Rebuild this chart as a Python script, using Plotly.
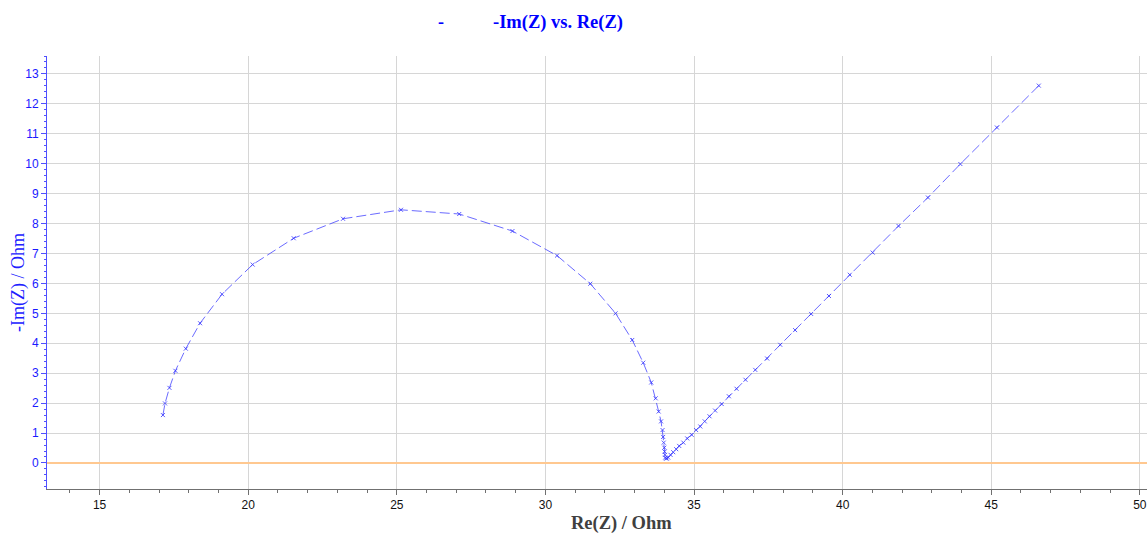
import plotly.graph_objects as go

re_z = [17.13, 17.20, 17.35, 17.55, 17.90, 18.38, 19.12, 20.15, 21.53, 23.19, 25.14,
        27.10, 28.89, 30.39, 31.51, 32.36, 32.92, 33.29, 33.56, 33.71, 33.81, 33.89,
        33.94, 33.96, 33.98, 34.00, 34.01, 34.02, 34.03, 34.06, 34.08,
        34.13, 34.21, 34.30, 34.40, 34.50, 34.64, 34.77, 34.92, 35.07, 35.21, 35.36,
        35.52, 35.71, 35.93, 36.17, 36.43, 36.73, 37.06, 37.46, 37.90, 38.40, 38.94,
        39.54, 40.24, 41.01, 41.88, 42.87, 43.96, 45.19, 46.60]
neg_im_z = [1.60, 1.99, 2.51, 3.08, 3.82, 4.67, 5.64, 6.63, 7.51, 8.16, 8.46,
            8.32, 7.75, 6.93, 5.99, 5.00, 4.11, 3.35, 2.69, 2.16, 1.72, 1.39,
            1.10, 0.87, 0.68, 0.51, 0.38, 0.27, 0.18, 0.15, 0.15,
            0.18, 0.27, 0.36, 0.46, 0.57, 0.68, 0.82, 0.94, 1.10, 1.22, 1.39,
            1.56, 1.75, 1.97, 2.23, 2.48, 2.78, 3.11, 3.49, 3.95, 4.44, 4.98,
            5.58, 6.29, 7.03, 7.92, 8.87, 9.99, 11.21, 12.61]

x_ticks = [15, 20, 25, 30, 35, 40, 45, 50]
y_ticks = list(range(0, 14))

blue = "#1a1aff"

fig = go.Figure()
fig.add_trace(go.Scatter(
    x=re_z, y=neg_im_z, mode="lines+markers",
    line=dict(color="rgba(70,70,255,0.8)", width=1, dash="10px,4px"),
    marker=dict(symbol="x-thin", size=4, color="rgba(50,50,255,0.8)",
                line=dict(width=1, color="rgba(50,50,255,0.8)")),
    showlegend=False,
))

fig.update_layout(
    width=1147, height=533,
    margin=dict(l=47, r=0, t=56, b=44),
    paper_bgcolor="white", plot_bgcolor="white",
    font=dict(family="Liberation Sans, Arial", size=12),
    xaxis=dict(
        range=[13.23, 50.24], tickvals=x_ticks, ticktext=[str(v) for v in x_ticks],
        automargin=False,
        showgrid=True, gridcolor="#d6d6d6", gridwidth=1,
        zeroline=False, showline=True, linecolor="#707070", linewidth=1,
        ticks="outside", ticklen=5, tickcolor="#707070",
        tickfont=dict(color="#111111", size=12),
        minor=dict(dtick=1, ticks="outside", ticklen=3, tickcolor="#707070", showgrid=False),
    ),
    yaxis=dict(
        range=[-0.87, 13.6], tickvals=y_ticks, ticktext=[str(v) for v in y_ticks],
        automargin=False,
        showgrid=True, gridcolor="#d6d6d6", gridwidth=1,
        zeroline=True, zerolinecolor="#ffc890", zerolinewidth=2,
        showline=True, linecolor="#5050ff", linewidth=1,
        ticks="outside", ticklen=5, tickcolor="#5050ff",
        tickfont=dict(color=blue, size=12),
        minor=dict(dtick=0.2, ticks="outside", ticklen=2, tickcolor="#5050ff", showgrid=False),
    ),
    annotations=[
        dict(text="<b>-</b>", xref="paper", yref="paper", x=(441 - 47) / 1100, y=1 + (56 - 22) / 433,
             xanchor="center", yanchor="middle", showarrow=False,
             font=dict(family="Liberation Serif, Times New Roman", size=18, color="#0000ff")),
        dict(text="<b>-Im(Z) vs. Re(Z)</b>", xref="paper", yref="paper", x=(558 - 47) / 1100,
             y=1 + (56 - 22) / 433, xanchor="center", yanchor="middle", showarrow=False,
             font=dict(family="Liberation Serif, Times New Roman", size=18.5, color="#0000ff")),
        dict(text="-Im(Z) / Ohm", xref="paper", yref="paper", x=-(47 - 18) / 1100,
             y=(489 - 283) / 433, xanchor="center", yanchor="middle", textangle=-90,
             showarrow=False,
             font=dict(family="Liberation Serif, Times New Roman", size=18, color="#2020ff")),
        dict(text="<b>Re(Z) / Ohm</b>", xref="paper", yref="paper", x=(621 - 47) / 1100,
             y=-(523 - 489) / 433, xanchor="center", yanchor="middle", showarrow=False,
             font=dict(family="Liberation Serif, Times New Roman", size=18.5, color="#404040")),
    ],
)

fig.write_html("out.html", config={"displayModeBar": False},
               post_script="document.body.style.margin='0px';document.body.style.overflow='hidden';")
